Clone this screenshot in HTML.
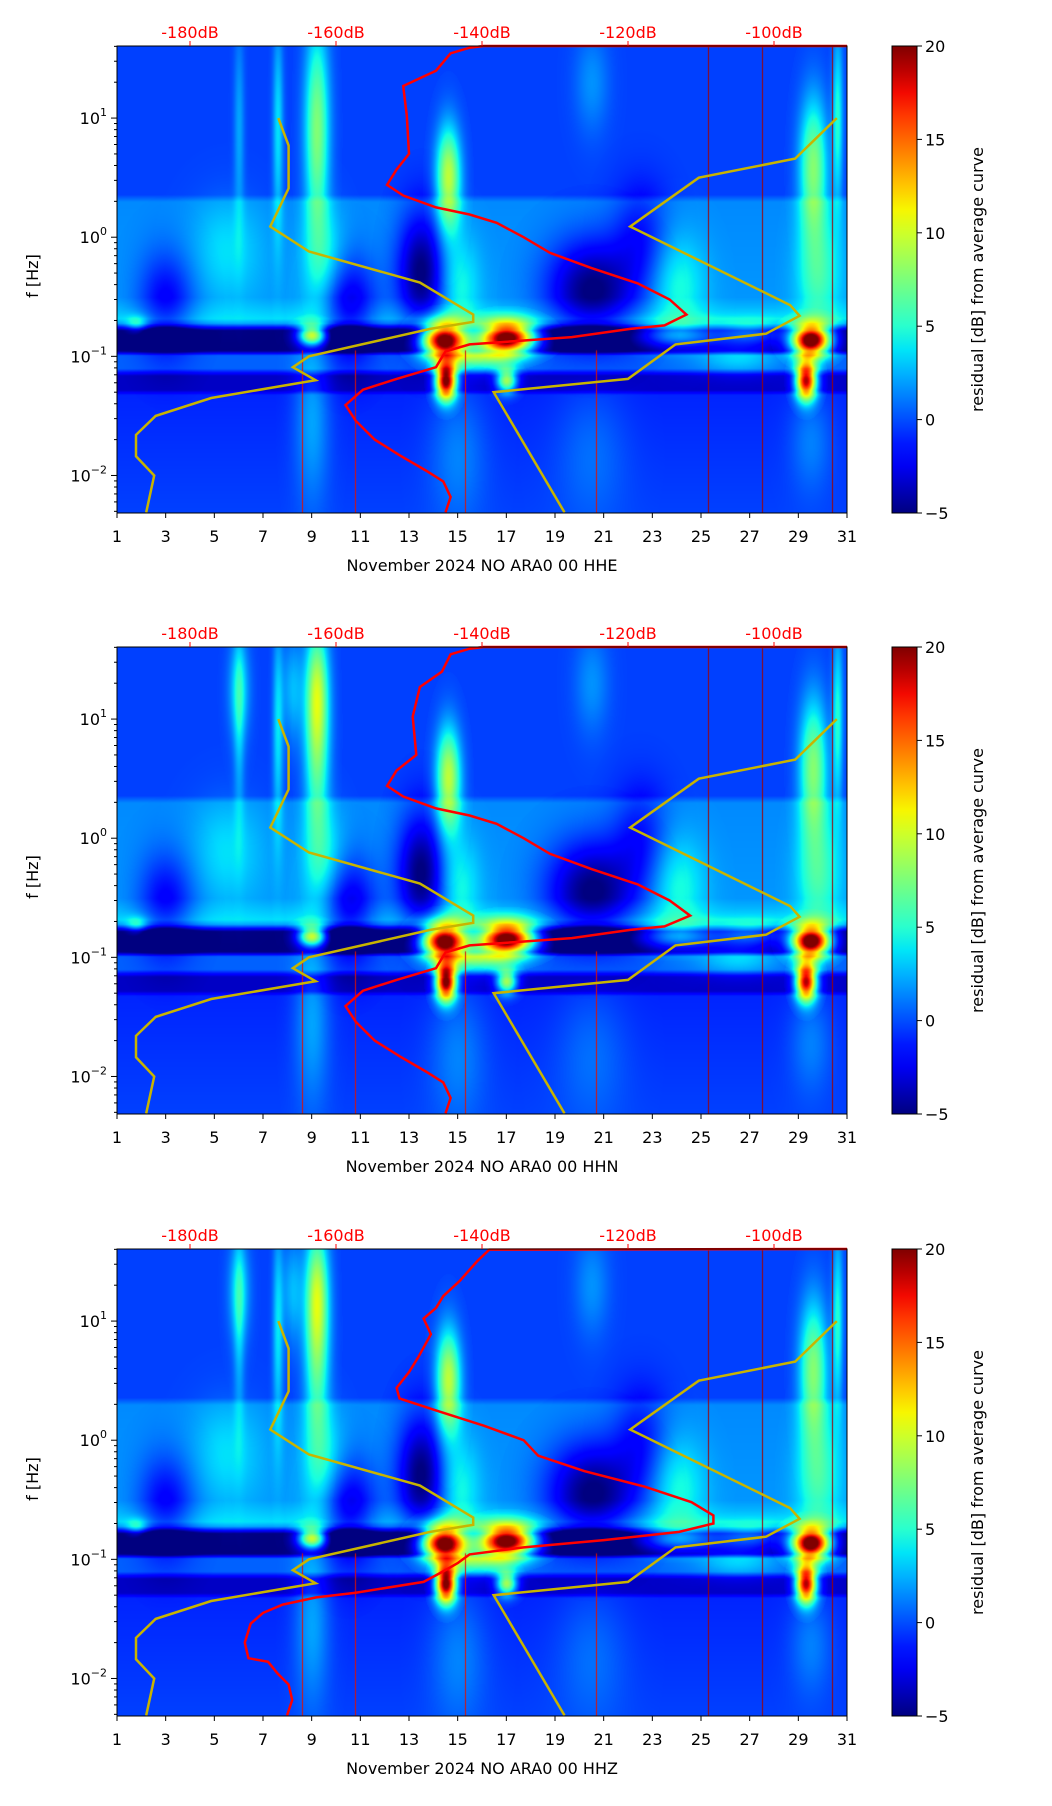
<!DOCTYPE html>
<html><head><meta charset="utf-8">
<style>
body{margin:0;background:#fff;}
#wrap{position:relative;width:1052px;height:1806px;overflow:hidden;background:#fff;font-family:"DejaVu Sans","Liberation Sans",sans-serif;}
canvas{position:absolute;}
svg{position:absolute;left:0;top:0;}
</style></head>
<body>
<div id="wrap">
<canvas id="c0" width="730" height="467" style="left:117px;top:46px"></canvas>
<canvas id="c1" width="730" height="467" style="left:117px;top:647px"></canvas>
<canvas id="c2" width="730" height="467" style="left:117px;top:1249px"></canvas>
<svg id="svg" width="1052" height="1806"></svg>
</div>
<script>
// ---- data ----
const channels = ["HHE","HHN","HHZ"];
const xTicks = [1,3,5,7,9,11,13,15,17,19,21,23,25,27,29,31];
const dbTicks = [-180,-160,-140,-120,-100];
const cbTicks = [-5,0,5,10,15,20];
// baseline residual by log10(f)
const baseLogF = [1.61,0.36,0.3,-0.5,-0.68,-0.72,-0.78,-0.95,-0.99,-1.1,-1.16,-1.28,-1.32,-2.32];
const baseVal  = [-0.3,-0.3, 1.5, 1.8, 3.5, 2.0,-5.0,-5.0, 0.5, 0.5,-3.5,-3.5,-1.0,-0.3];
// features: day, log10 f, amplitude dB, day spread, logf spread
const featDay = [9.2,14.6,29.6,6.0,7.6,20.5,30.6, 14.4,17.0,29.5,9.0,14.5,29.3,17.0,16.0,24.0,27.0,1.8, 13.5,20.5,3.0,10.5,22.5, 15.0,24.0,29.8,5.5,9.5, 15.0,29.5,20.5,9.0,26.5];
const featLogF= [0.9,0.5,0.6,0.9,0.9,1.3,1.0, -0.86,-0.84,-0.86,-0.82,-1.2,-1.2,-1.2,-1.0,-0.82,-0.8,-0.73, -0.3,-0.45,-0.55,-0.6,0.0, -0.4,-0.4,-0.3,-0.1,-0.2, -1.8,-1.7,-1.8,-1.5,-1.0];
const featAmp = [8,10,8,2.5,4,2,5, 27,27,27,14,24,22,12,6,6,5,4, -7,-7,-4,-5,-3, 3,3,4,2,3, 2,2,1.5,3,3];
const featSD  = [0.35,0.35,0.4,0.15,0.15,0.5,0.15, 0.65,0.8,0.55,0.4,0.3,0.3,0.3,1.0,1.2,1.0,0.3, 0.7,1.3,0.8,0.8,0.8, 0.6,0.8,0.6,1.0,0.6, 0.8,0.6,1.0,0.5,1.2];
const featSL  = [0.6,0.3,0.4,0.6,0.6,0.3,0.5, 0.1,0.09,0.09,0.06,0.11,0.11,0.07,0.08,0.07,0.07,0.05, 0.35,0.3,0.3,0.3,0.3, 0.3,0.3,0.35,0.3,0.3, 0.4,0.3,0.4,0.5,0.1];
// extra high-frequency features for HHN/HHZ
const extraDay = [9.2,6.0,8.2];
const extraLogF= [1.25,1.25,1.25];
const extraAmp = [4,4,3];
// thin vertical lines
const lineDay = [25.3,27.5,30.4];
const spikeDay = [10.8,15.3,20.7,8.6];
// red PSD curves (frequency Hz, dB)
const redF0 = [40.3,40.3,39,35,25,18.6,10.5,5,3.7,2.75,2.24,1.78,1.55,1.32,1.0,0.74,0.55,0.41,0.3,0.224,0.182,0.17,0.145,0.126,0.11,0.081,0.0646,0.0525,0.039,0.0288,0.02,0.0148,0.011,0.0089,0.0066,0.0049];
const redD0 = [-90,-139.8,-141.7,-144.3,-146.3,-150.8,-150.3,-150,-151.7,-153,-150.8,-146.3,-141.7,-138,-134.3,-130.7,-125,-118.7,-114.3,-112,-115,-119.7,-127.7,-141.7,-145,-146.3,-151.7,-156.3,-158.7,-157.3,-154.7,-151.3,-147.7,-145.3,-144.3,-145];
const redD1 = [-90,-139.8,-141.7,-144.3,-145.5,-148.5,-149.5,-149,-151.7,-153,-150.8,-146.3,-141.7,-138,-134.3,-130.7,-125,-118.7,-114.3,-111.5,-115,-119.7,-127.7,-141.7,-145,-146.3,-151.7,-156.3,-158.7,-157.3,-154.7,-151.3,-147.7,-145.3,-144.3,-145];
const redF2 = [40.3,39.8,31.6,21.9,16.2,12.9,10.5,7.76,5.01,3.72,2.75,2.24,1.78,1.32,1.0,0.741,0.55,0.407,0.302,0.234,0.2,0.17,0.145,0.126,0.11,0.0933,0.0813,0.0646,0.0525,0.0479,0.0417,0.0355,0.0288,0.02,0.0148,0.0138,0.011,0.0089,0.0066,0.0049];
const redD2 = [-90,-139,-140.7,-143,-145.3,-146.3,-148,-147,-148.7,-150,-151.7,-151.3,-146.3,-139.7,-134.3,-132.3,-126,-117.7,-111.3,-108.3,-108.3,-113,-123.3,-134.3,-141.7,-143.3,-145,-148,-157.3,-162.7,-167.3,-170,-171.7,-172.5,-172,-169.3,-168,-166.5,-166,-166.7];
// noise model curves (frequency Hz, dB)
const lowF = [0.0049,0.01,0.0145,0.0219,0.0316,0.0447,0.063,0.081,0.1,0.17,0.195,0.224,0.417,0.759,1.23,2.57,5.89,10];
const lowD = [-186,-184.9,-187.4,-187.4,-184.7,-177.1,-162.8,-165.9,-163.7,-147.1,-141.2,-141.2,-148.5,-163.7,-169,-166.5,-166.5,-167.9];
const highF = [0.0049,0.05,0.0646,0.126,0.155,0.219,0.269,1.23,3.16,4.57,10];
const highD = [-128.7,-138.4,-120,-113.5,-101.1,-96.5,-97.8,-119.7,-110.3,-97.1,-91.4];

// ---- geometry ----
const T=[46,647,1249], X0=117, X1=847, H=467, LTOP=1.605, LBOT=-2.315;
const xs = d => X0+(d-1)/30*(X1-X0);
const ys = (i,lf) => T[i]+(LTOP-lf)/(LTOP-LBOT)*H;
const dbDay = db => 4+(db+180)*0.3;
function jet(t){t=Math.max(0,Math.min(1,t));
 const c=(x,pts)=>{for(let k=1;k<pts.length;k++){if(x<=pts[k][0]){const a=pts[k-1],b=pts[k];return a[1]+(b[1]-a[1])*(x-a[0])/(b[0]-a[0]);}}return pts[pts.length-1][1];};
 return [c(t,[[0,0],[0.35,0],[0.66,1],[0.89,1],[1,0.5]]),c(t,[[0,0],[0.125,0],[0.375,1],[0.64,1],[0.91,0],[1,0]]),c(t,[[0,0.5],[0.11,1],[0.34,1],[0.65,0],[1,0]])].map(v=>Math.round(v*255));}
function base(lf){for(let k=1;k<baseLogF.length;k++){if(lf>=baseLogF[k]){const a=baseLogF[k-1],b=baseLogF[k];return baseVal[k-1]+(baseVal[k]-baseVal[k-1])*(a-lf)/(a-b);}}return baseVal[baseVal.length-1];}
function drawSpec(i){
 const cv=document.getElementById('c'+i),ctx=cv.getContext('2d'),W=cv.width,Hh=cv.height;
 const img=ctx.createImageData(W,Hh);
 const fd=featDay.slice(),fl=featLogF.slice(),fa=featAmp.slice(),fs=featSD.slice(),fsl=featSL.slice();
 if(i>0){for(let k=0;k<extraDay.length;k++){fd.push(extraDay[k]);fl.push(extraLogF[k]);fa.push(extraAmp[k]);fs.push(0.3);fsl.push(0.3);}}
 for(let y=0;y<Hh;y++){const lf=LTOP-(y/Hh)*(LTOP-LBOT);const b=base(lf);
  for(let x=0;x<W;x++){const d=1+x/W*30;let v=b;
   for(let k=0;k<fd.length;k++){const dx=(d-fd[k])/fs[k],dy=(lf-fl[k])/fsl[k];const e=dx*dx+dy*dy;if(e<9)v+=fa[k]*Math.exp(-0.5*e);}
   const c=jet((v+5)/25),p=(y*W+x)*4;img.data[p]=c[0];img.data[p+1]=c[1];img.data[p+2]=c[2];img.data[p+3]=255;}}
 ctx.putImageData(img,0,0);
 ctx.fillStyle='#a00000';
 lineDay.forEach(d=>{ctx.fillRect(Math.round((d-1)/30*W),0,1,Hh);});
 ctx.fillStyle='#e01000';
 spikeDay.forEach(d=>{const y0=(LTOP+0.95)/(LTOP-LBOT)*Hh;ctx.fillRect(Math.round((d-1)/30*W),y0,1,Hh-y0);});
}
// ---- svg ----
const NS='http://www.w3.org/2000/svg',svg=document.getElementById('svg');
function el(tag,attrs,parent){const e=document.createElementNS(NS,tag);for(const k in attrs)e.setAttribute(k,attrs[k]);(parent||svg).appendChild(e);return e;}
const defs=el('defs',{});
const grad=el('linearGradient',{id:'jetg',x1:0,y1:1,x2:0,y2:0},defs);
for(let s=0;s<=20;s++){const c=jet(s/20);el('stop',{offset:s/20,'stop-color':`rgb(${c[0]},${c[1]},${c[2]})`},grad);}
function pathFor(i,F,D){return F.map((f,k)=>(k?'L':'M')+xs(dbDay(D[k])).toFixed(1)+','+ys(i,Math.log10(f)).toFixed(1)).join(' ');}
for(let i=0;i<3;i++){
 drawSpec(i);
 const g=el('g',{});
 
 
 const cp=el('clipPath',{id:'cp'+i},defs);el('rect',{x:X0,y:T[i]-2,width:X1-X0,height:H+2},cp);
 const lc=el('g',{'clip-path':`url(#cp${i})`},g);
 const lo=el('path',{d:pathFor(i,lowF,lowD),fill:'none',stroke:'#c8b400',"stroke-width":2.5},lc);
 
 const hi=el('path',{d:pathFor(i,highF,highD),fill:'none',stroke:'#c8b400',"stroke-width":2.5},lc);
 
 const rf=i==2?redF2:redF0, rd=i==0?redD0:(i==1?redD1:redD2);
 const red=el('path',{d:pathFor(i,rf,rd),fill:'none',stroke:'#ff0000',"stroke-width":2.5},lc);
 
 el('rect',{x:X0,y:T[i],width:X1-X0,height:H,fill:'none',stroke:'#000','stroke-width':1},g);
 xTicks.forEach(d=>{const x=xs(d);el('line',{x1:x,x2:x,y1:T[i]+H,y2:T[i]+H+5,stroke:'#000'},g);
  const t=el('text',{x:x,y:T[i]+H+29,'text-anchor':'middle','font-size':16},g);t.textContent=d;
  });
 dbTicks.forEach(db=>{const x=xs(dbDay(db));el('line',{x1:x,x2:x,y1:T[i],y2:T[i]-5,stroke:'#ff0000'},g);
  const t=el('text',{x:x,y:T[i]-8,'text-anchor':'middle','font-size':16,fill:'#ff0000'},g);t.textContent=db+'dB';
  });
 for(let k=-3;k<=1;k++){for(let m=1;m<=9;m++){const lf=k+Math.log10(m);if(lf>LTOP||lf<LBOT)continue;const y=ys(i,lf);
  el('line',{x1:X0,x2:X0-(m==1?6:3),y1:y,y2:y,stroke:'#000'},g);
  if(m==1){const t=el('text',{x:X0-10,y:y+6,'text-anchor':'end','font-size':16},g);t.textContent='10';
   const s=el('tspan',{dy:-8,'font-size':11},t);s.textContent=k<0?'\u2212'+(-k):k;
   }}}
 const yl=el('text',{x:0,y:0,transform:`translate(38,${T[i]+230}) rotate(-90)`,'text-anchor':'middle','font-size':16},g);yl.textContent='f [Hz]';
 
 const xl=el('text',{x:(X0+X1)/2,y:T[i]+H+58,'text-anchor':'middle','font-size':16},g);xl.textContent='November 2024 NO ARA0 00 '+channels[i];
 
 const cb=el('rect',{x:892,y:T[i],width:25,height:H,fill:'url(#jetg)',stroke:'#000','stroke-width':1},g);
 
 cbTicks.forEach(v=>{const y=T[i]+H-(v+5)/25*H;el('line',{x1:917,x2:922,y1:y,y2:y,stroke:'#000'},g);
  const t=el('text',{x:925,y:y+6,'font-size':16},g);t.textContent=v<0?'\u2212'+(-v):v;
  });
 const cl=el('text',{x:0,y:0,transform:`translate(983,${T[i]+H/2}) rotate(-90)`,'text-anchor':'middle','font-size':16},g);cl.textContent='residual [dB] from average curve';
 
}
</script>
</body></html>
